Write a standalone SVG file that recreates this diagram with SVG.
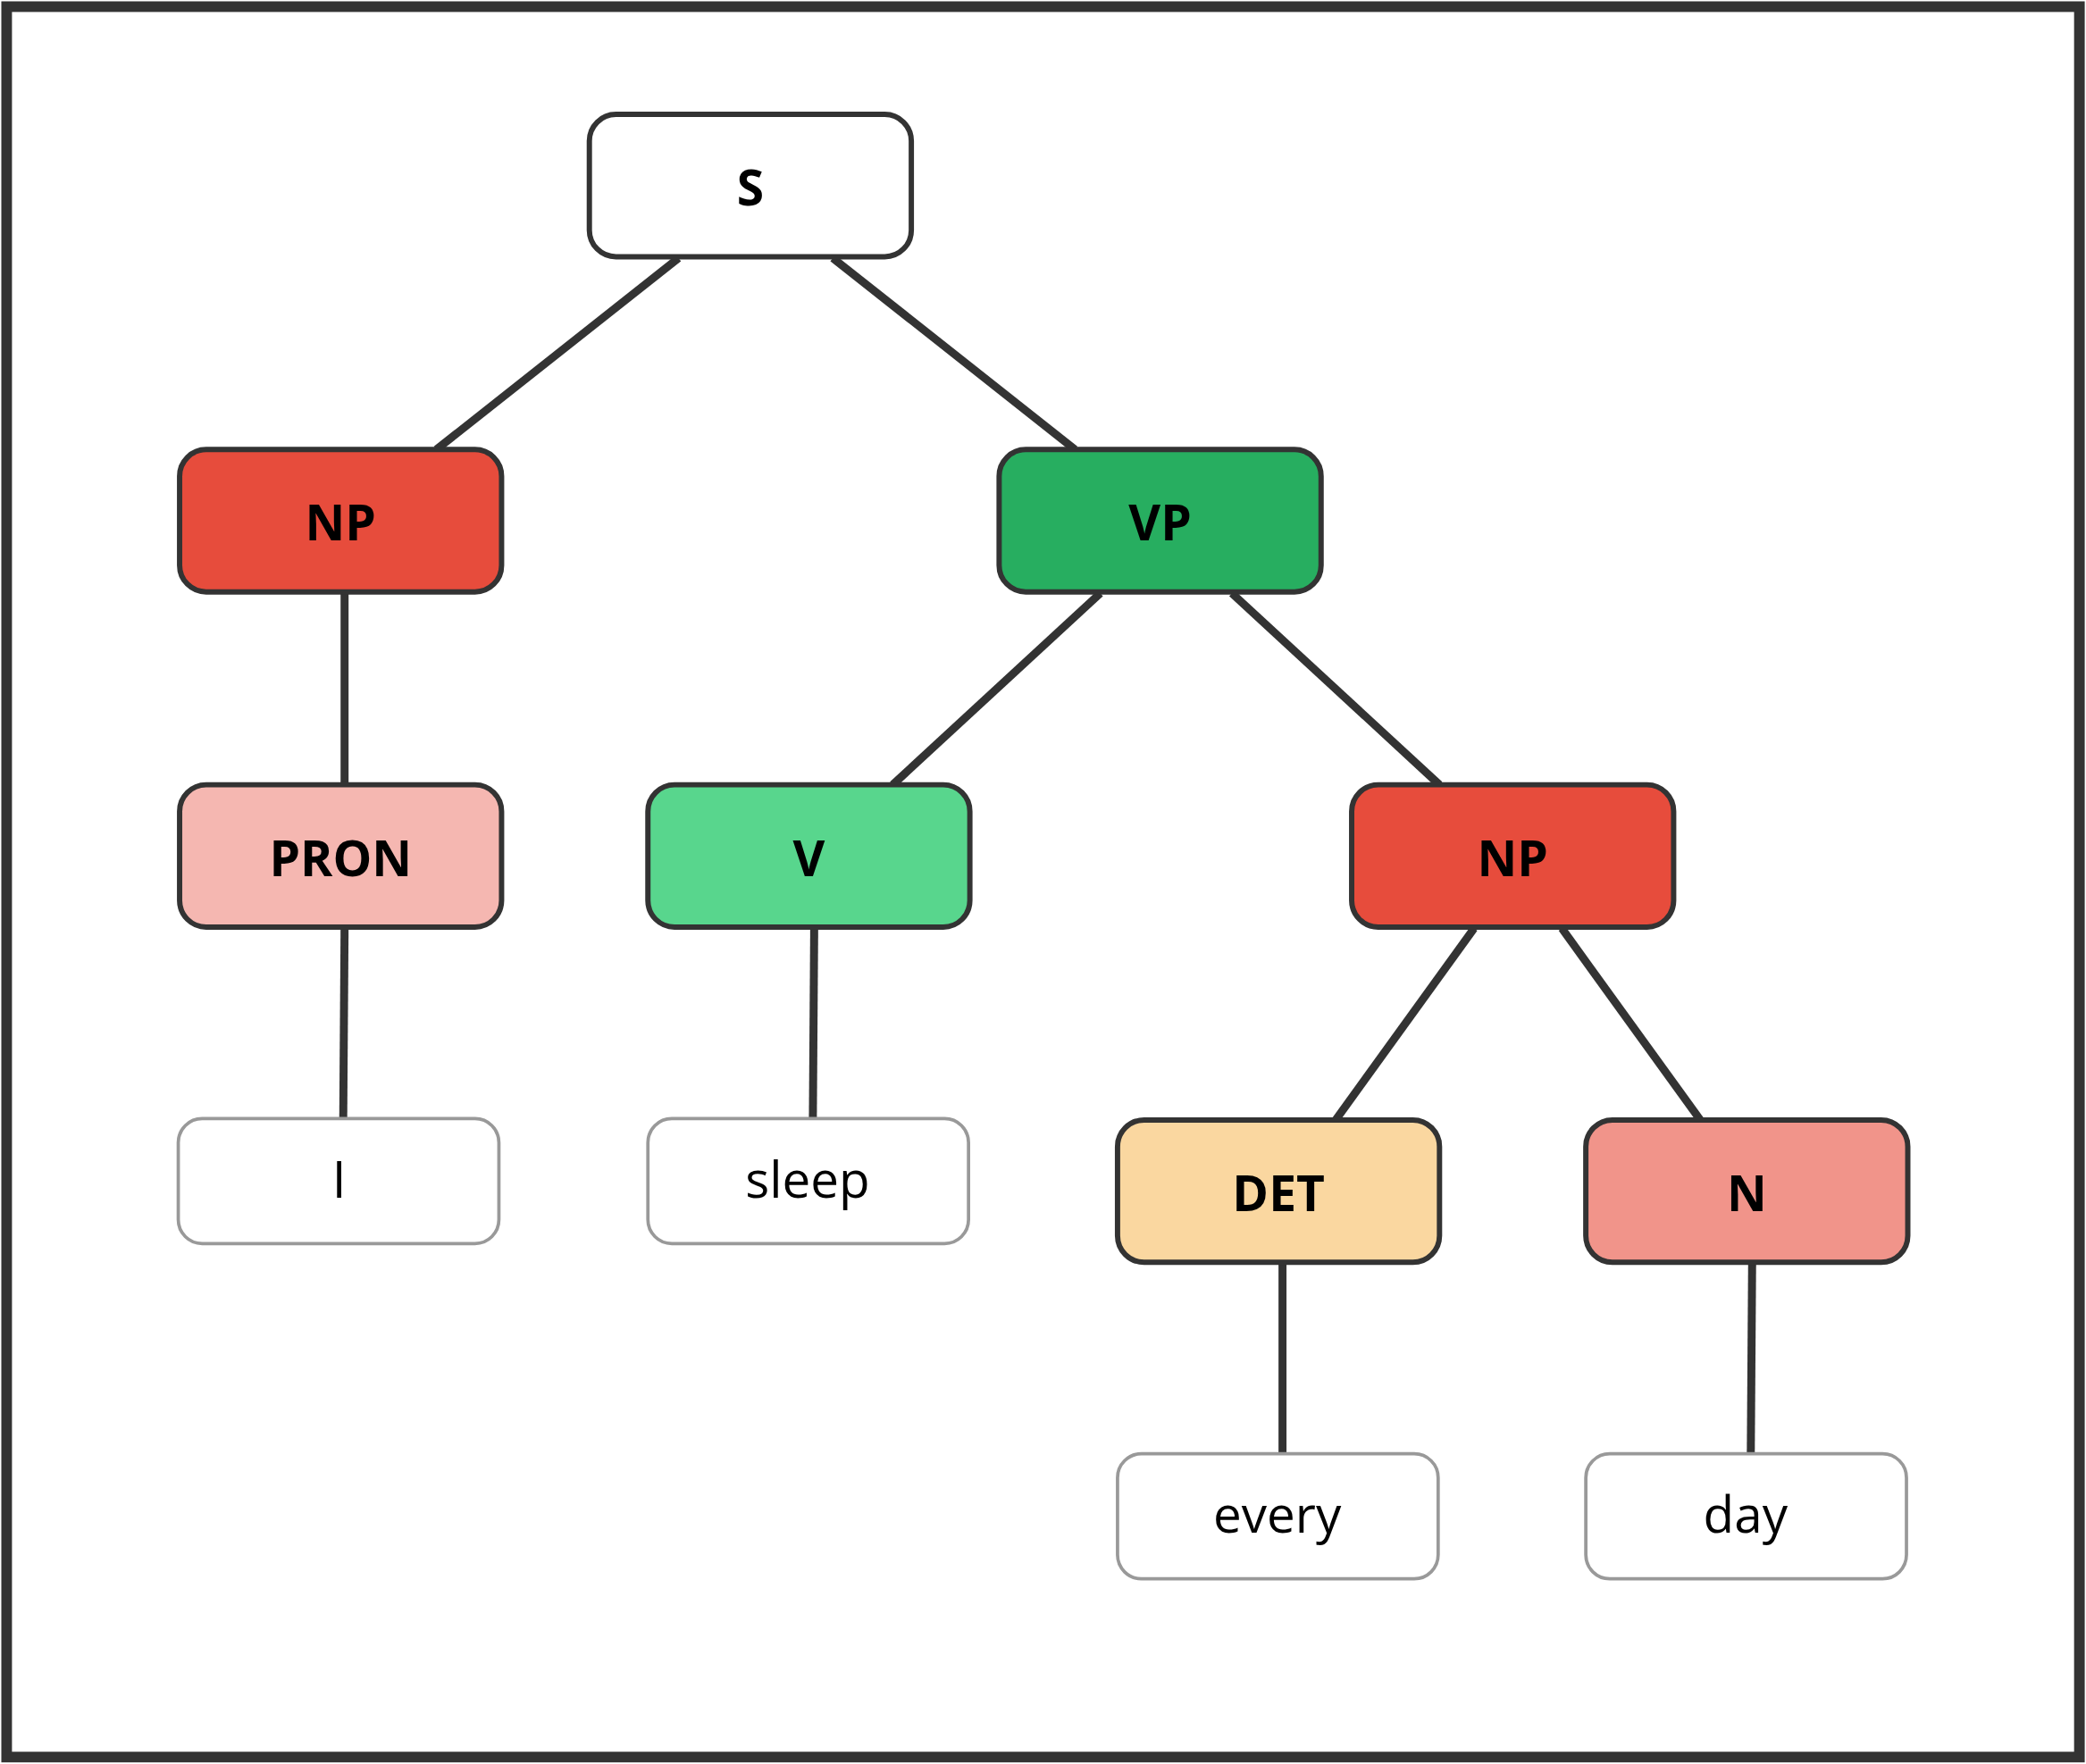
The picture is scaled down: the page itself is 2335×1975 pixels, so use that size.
<svg xmlns="http://www.w3.org/2000/svg" width="2335" height="1975" viewBox="0 0 2335 1975">
<style>
.n{stroke:#333;stroke-width:4}
.l{fill:#fff;stroke:#999;stroke-width:2.5}
.t{font-family:"Open Sans","DejaVu Sans",sans-serif;font-weight:bold;font-size:37px;fill:#000;text-anchor:middle;dominant-baseline:central}
.w{font-family:"Open Sans","DejaVu Sans",sans-serif;font-size:38px;fill:#000;text-anchor:middle;dominant-baseline:central}
#edges line{stroke:#333;stroke-width:6}
</style>
<rect width="2335" height="1975" fill="#fff"/>
<g transform="scale(1.4892)">
<rect x="5" y="5" width="1558" height="1316" fill="#fff" stroke="#333" stroke-width="8"/>
<g id="edges">
<line x1="510" y1="194" x2="328" y2="338"/>
<line x1="626" y1="194" x2="808" y2="338"/>
<line x1="259" y1="446" x2="259" y2="590"/>
<line x1="259" y1="698" x2="258" y2="841"/>
<line x1="827" y1="446" x2="671" y2="590"/>
<line x1="926" y1="446" x2="1082" y2="590"/>
<line x1="612" y1="698" x2="611" y2="841"/>
<line x1="1108" y1="698" x2="1004" y2="842"/>
<line x1="1174" y1="698" x2="1278" y2="842"/>
<line x1="964" y1="950" x2="964" y2="1093"/>
<line x1="1317" y1="950" x2="1316" y2="1093"/>
</g>
<g id="S"><rect class="n" x="443" y="86" width="242" height="107" rx="20" fill="#fff"/><text class="t" x="564" y="140">S</text></g>
<g id="NP1"><rect class="n" x="135" y="338" width="242" height="107" rx="20" fill="#E74C3C"/><text class="t" x="256" y="392">NP</text></g>
<g id="VP"><rect class="n" x="751" y="338" width="242" height="107" rx="20" fill="#27AE60"/><text class="t" x="872" y="392">VP</text></g>
<g id="PRON"><rect class="n" x="135" y="590" width="242" height="107" rx="20" fill="#F5B7B1"/><text class="t" x="256" y="644">PRON</text></g>
<g id="V"><rect class="n" x="487" y="590" width="242" height="107" rx="20" fill="#58D68D"/><text class="t" x="608" y="644">V</text></g>
<g id="NP2"><rect class="n" x="1016" y="590" width="242" height="107" rx="20" fill="#E74C3C"/><text class="t" x="1137" y="644">NP</text></g>
<g id="DET"><rect class="n" x="840" y="842" width="242" height="107" rx="20" fill="#FAD7A0"/><text class="t" x="961" y="896">DET</text></g>
<g id="N"><rect class="n" x="1192" y="842" width="242" height="107" rx="20" fill="#F1948A"/><text class="t" x="1313" y="896">N</text></g>
<g id="I"><rect class="l" x="134" y="841" width="241" height="94" rx="18"/><text class="w" x="255" y="886">I</text></g>
<g id="sleep"><rect class="l" x="487" y="841" width="241" height="94" rx="18"/><text class="w" x="607" y="886">sleep</text></g>
<g id="every"><rect class="l" x="840" y="1093" width="241" height="94" rx="18"/><text class="w" x="960" y="1138">every</text></g>
<g id="day"><rect class="l" x="1192" y="1093" width="241" height="94" rx="18"/><text class="w" x="1312" y="1138">day</text></g>
</g>
</svg>
